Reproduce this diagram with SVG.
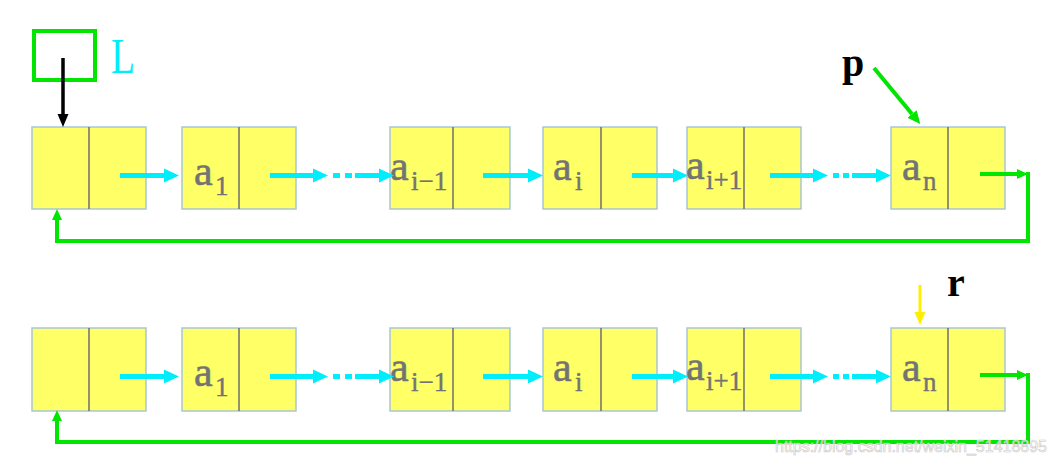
<svg xmlns="http://www.w3.org/2000/svg" width="1055" height="465" viewBox="0 0 1055 465">
<style>
.box{fill:#ffff66;stroke:#a9c6d6;stroke-width:1.5}
.div{stroke:#6e6e6e;stroke-width:1.5}
.lbl{font-family:"Liberation Serif",serif;fill:#737373;stroke:#737373;stroke-width:0.6;font-size:42px}
.sub{font-family:"Liberation Serif",serif;fill:#737373;stroke:#737373;stroke-width:0.4;font-size:27px}
.cy{stroke:#00eefc;stroke-width:5;fill:none}
.gr{stroke:#00e600;stroke-width:4;fill:none}
.bold{font-family:"Liberation Serif",serif;font-weight:bold;font-size:40px;fill:#000}
</style>
<defs>
<marker id="ac" markerUnits="userSpaceOnUse" markerWidth="16" markerHeight="16" refX="0" refY="8" orient="auto"><path d="M0,1 L15,8 L0,15 Z" fill="#00eefc"/></marker>
<marker id="ag" markerUnits="userSpaceOnUse" markerWidth="12" markerHeight="12" refX="0" refY="6" orient="auto"><path d="M0,1 L11,6 L0,11 Z" fill="#00e600"/></marker>
<marker id="agp" markerUnits="userSpaceOnUse" markerWidth="14" markerHeight="14" refX="0" refY="7" orient="auto"><path d="M0,1 L13,7 L0,13 Z" fill="#00e600"/></marker>
<marker id="ak" markerUnits="userSpaceOnUse" markerWidth="14" markerHeight="14" refX="0" refY="6" orient="auto"><path d="M0,0.5 L13,6 L0,11.5 Z" fill="#000"/></marker>
<marker id="ay" markerUnits="userSpaceOnUse" markerWidth="14" markerHeight="14" refX="0" refY="6" orient="auto"><path d="M0,0.5 L13,6 L0,11.5 Z" fill="#ffee00"/></marker>
</defs>

<!-- head pointer L -->
<g id="L">
<rect x="34" y="31" width="61" height="49" fill="none" stroke="#00e600" stroke-width="4"/>
<text x="111" y="73" font-family="Liberation Serif,serif" font-size="50" fill="#00eefc" textLength="24" lengthAdjust="spacingAndGlyphs">L</text>
</g>

<!-- row 1 -->
<g id="n1"><rect class="box" x="32" y="127" width="114" height="82"/><line class="div" x1="89" y1="127" x2="89" y2="209"/></g>
<g id="n2"><rect class="box" x="182" y="127" width="114" height="82"/><line class="div" x1="239" y1="127" x2="239" y2="209"/>
<text class="lbl" x="194" y="185">a</text><text class="sub" x="215" y="195">1</text></g>
<g id="n3"><rect class="box" x="390" y="127" width="120" height="82"/><line class="div" x1="453" y1="127" x2="453" y2="209"/>
<text class="lbl" x="390" y="180">a</text><text class="sub" x="411" y="190">i−1</text></g>
<g id="n4"><rect class="box" x="543" y="127" width="114" height="82"/><line class="div" x1="601" y1="127" x2="601" y2="209"/>
<text class="lbl" x="553" y="180">a</text><text class="sub" x="575" y="190">i</text></g>
<g id="n5"><rect class="box" x="687" y="127" width="114" height="82"/><line class="div" x1="744" y1="127" x2="744" y2="209"/>
<text class="lbl" x="686" y="179">a</text><text class="sub" x="706" y="189">i+1</text></g>
<g id="n6"><rect class="box" x="891" y="127" width="114" height="82"/><line class="div" x1="948" y1="127" x2="948" y2="209"/>
<text class="lbl" x="902" y="180">a</text><text class="sub" x="923" y="190">n</text></g>

<g id="p"><text class="bold" x="842" y="76">p</text></g>

<!-- row 2 -->
<g id="m1"><rect class="box" x="32" y="328" width="114" height="83"/><line class="div" x1="89" y1="328" x2="89" y2="411"/></g>
<g id="m2"><rect class="box" x="182" y="328" width="114" height="83"/><line class="div" x1="239" y1="328" x2="239" y2="411"/>
<text class="lbl" x="194" y="386">a</text><text class="sub" x="215" y="396">1</text></g>
<g id="m3"><rect class="box" x="390" y="328" width="120" height="83"/><line class="div" x1="453" y1="328" x2="453" y2="411"/>
<text class="lbl" x="390" y="381">a</text><text class="sub" x="411" y="391">i−1</text></g>
<g id="m4"><rect class="box" x="543" y="328" width="114" height="83"/><line class="div" x1="601" y1="328" x2="601" y2="411"/>
<text class="lbl" x="553" y="381">a</text><text class="sub" x="575" y="391">i</text></g>
<g id="m5"><rect class="box" x="687" y="328" width="114" height="83"/><line class="div" x1="744" y1="328" x2="744" y2="411"/>
<text class="lbl" x="686" y="380">a</text><text class="sub" x="706" y="390">i+1</text></g>
<g id="m6"><rect class="box" x="891" y="328" width="114" height="83"/><line class="div" x1="948" y1="328" x2="948" y2="411"/>
<text class="lbl" x="902" y="381">a</text><text class="sub" x="923" y="391">n</text></g>

<g id="r"><text class="bold" x="947" y="296">r</text></g>

<g id="connectors">
<!-- L pointer -->
<line x1="63" y1="58" x2="63" y2="114" stroke="#000" stroke-width="3.5" marker-end="url(#ak)"/>
<!-- p pointer -->
<line x1="874" y1="68" x2="912" y2="114" class="gr" marker-end="url(#agp)"/>
<!-- r pointer -->
<line x1="920" y1="285" x2="920" y2="312" stroke="#ffee00" stroke-width="3" marker-end="url(#ay)"/>

<!-- row 1 links -->
<line class="cy" x1="120" y1="175.5" x2="164" y2="175.5" marker-end="url(#ac)"/>
<line class="cy" x1="270" y1="175.5" x2="313" y2="175.5" marker-end="url(#ac)"/>
<line class="cy" x1="333" y1="175.5" x2="340" y2="175.5"/>
<line class="cy" x1="345" y1="175.5" x2="352" y2="175.5"/>
<line class="cy" x1="355" y1="175.5" x2="379" y2="175.5" marker-end="url(#ac)"/>
<line class="cy" x1="483" y1="175.5" x2="528" y2="175.5" marker-end="url(#ac)"/>
<line class="cy" x1="632" y1="175.5" x2="673" y2="175.5" marker-end="url(#ac)"/>
<line class="cy" x1="770" y1="175.5" x2="813" y2="175.5" marker-end="url(#ac)"/>
<line class="cy" x1="833" y1="175.5" x2="839" y2="175.5"/>
<line class="cy" x1="843" y1="175.5" x2="849" y2="175.5"/>
<line class="cy" x1="852" y1="175.5" x2="876" y2="175.5" marker-end="url(#ac)"/>
<line class="gr" x1="980" y1="174" x2="1017" y2="174" marker-end="url(#ag)"/>
<path class="gr" d="M1028,172 V241 H57 V220" marker-end="url(#ag)"/>

<!-- row 2 links -->
<line class="cy" x1="120" y1="376.5" x2="164" y2="376.5" marker-end="url(#ac)"/>
<line class="cy" x1="270" y1="376.5" x2="313" y2="376.5" marker-end="url(#ac)"/>
<line class="cy" x1="333" y1="376.5" x2="340" y2="376.5"/>
<line class="cy" x1="345" y1="376.5" x2="352" y2="376.5"/>
<line class="cy" x1="355" y1="376.5" x2="379" y2="376.5" marker-end="url(#ac)"/>
<line class="cy" x1="483" y1="376.5" x2="528" y2="376.5" marker-end="url(#ac)"/>
<line class="cy" x1="632" y1="376.5" x2="673" y2="376.5" marker-end="url(#ac)"/>
<line class="cy" x1="770" y1="376.5" x2="813" y2="376.5" marker-end="url(#ac)"/>
<line class="cy" x1="833" y1="376.5" x2="839" y2="376.5"/>
<line class="cy" x1="843" y1="376.5" x2="849" y2="376.5"/>
<line class="cy" x1="852" y1="376.5" x2="876" y2="376.5" marker-end="url(#ac)"/>
<line class="gr" x1="980" y1="375" x2="1017" y2="375" marker-end="url(#ag)"/>
<path class="gr" d="M1028,373 V442 H57 V421" marker-end="url(#ag)"/>
</g>

<text x="775" y="452" font-family="Liberation Sans,sans-serif" font-size="16" fill="#ffffff" fill-opacity="0.7" stroke="#c8c8c8" stroke-width="0.6" textLength="272" lengthAdjust="spacingAndGlyphs">https://blog.csdn.net/weixin_51418895</text>
</svg>
